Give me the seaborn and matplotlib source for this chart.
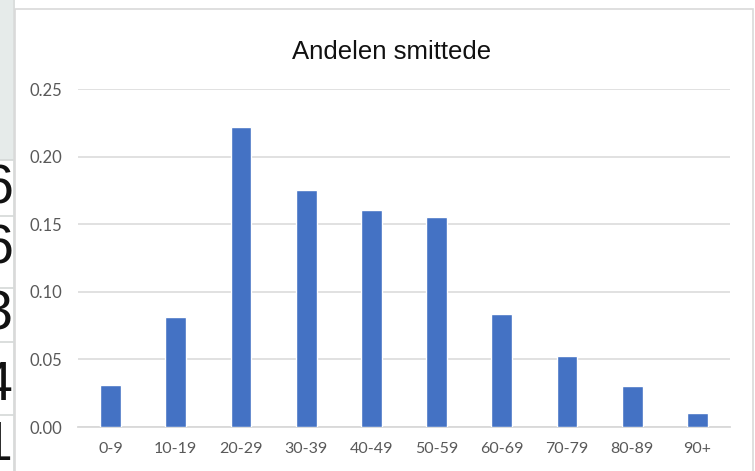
import matplotlib
matplotlib.use("Agg")
import matplotlib.pyplot as plt
import seaborn as sns
import pandas as pd
from matplotlib.patches import Rectangle
from matplotlib.lines import Line2D

categories = ["0-9", "10-19", "20-29", "30-39", "40-49", "50-59", "60-69", "70-79", "80-89", "90+"]
values = [0.031, 0.081, 0.222, 0.175, 0.1605, 0.155, 0.0835, 0.0525, 0.030, 0.0102]
yticks = [0.00, 0.05, 0.10, 0.15, 0.20, 0.25]
title = "Andelen smittede"
side_digits = ["6", "6", "3", "4", "1"]

df = pd.DataFrame({"Alder": categories, "Andel": values})

sns.set_theme(style="white")
plt.rcParams["font.family"] = ["Lato", "DejaVu Sans"]

W, H = 755, 471
fig = plt.figure(figsize=(W / 100, H / 100), dpi=100)

def fx(px):
    return px / W

def fy(py):
    return 1 - py / H

# spreadsheet artifacts on the left
fig.patches.append(Rectangle((0, fy(160)), fx(13), 1 - fy(160), transform=fig.transFigure,
                             facecolor="#e6ebea", edgecolor="none", zorder=-3))
for yb in [160, 216, 288, 342, 415]:
    fig.lines.append(Line2D([0, fx(13)], [fy(yb), fy(yb)], transform=fig.transFigure,
                            color="#d4d8d7", lw=1.2, zorder=-2))
fig.lines.append(Line2D([fx(13.5), fx(13.5)], [0, 1], transform=fig.transFigure,
                        color="#d4d8d7", lw=1.2, zorder=-2))
for d, yc in zip(side_digits, [190, 250, 316, 386, 446]):
    fig.text(fx(13), fy(yc), d, ha="right", va="center", fontsize=40,
             family=["Liberation Sans", "DejaVu Sans"], color="#111111", zorder=-1)

# chart frame
fig.patches.append(Rectangle((fx(15), -0.05), fx(753) - fx(15), fy(9) + 0.05,
                             transform=fig.transFigure, facecolor="white",
                             edgecolor="#d9d9d9", lw=1.2, zorder=-1))

ax = fig.add_axes([fx(78), fy(427), fx(730) - fx(78), fy(89) - fy(427)])
ax.set_facecolor("none")
sns.barplot(data=df, x="Alder", y="Andel", color="#4472C4", width=0.32,
            saturation=1, ax=ax, zorder=3)
ax.set_xlim(-0.5, len(categories) - 0.5)
ax.set_ylim(0, 0.25)
ax.set_yticks(yticks)
ax.set_yticklabels([f"{t:.2f}" for t in yticks])
ax.grid(axis="y", color="#d9d9d9", lw=1.1, zorder=0)
ax.set_axisbelow(True)
for s in ["top", "right", "left"]:
    ax.spines[s].set_visible(False)
ax.spines["bottom"].set_color("#d9d9d9")
ax.spines["bottom"].set_linewidth(1.3)
ax.tick_params(axis="both", length=0, colors="#595959")
ax.tick_params(axis="x", labelsize=11.5, pad=11)
ax.tick_params(axis="y", labelsize=12, pad=11.5)
ax.set_xlabel("")
ax.set_ylabel("")

fig.text(fx(392), fy(52), title, ha="center", va="center", fontsize=18.5,
         family=["Liberation Sans", "DejaVu Sans"], color="#111111")

fig.savefig("out.png", dpi=100)
